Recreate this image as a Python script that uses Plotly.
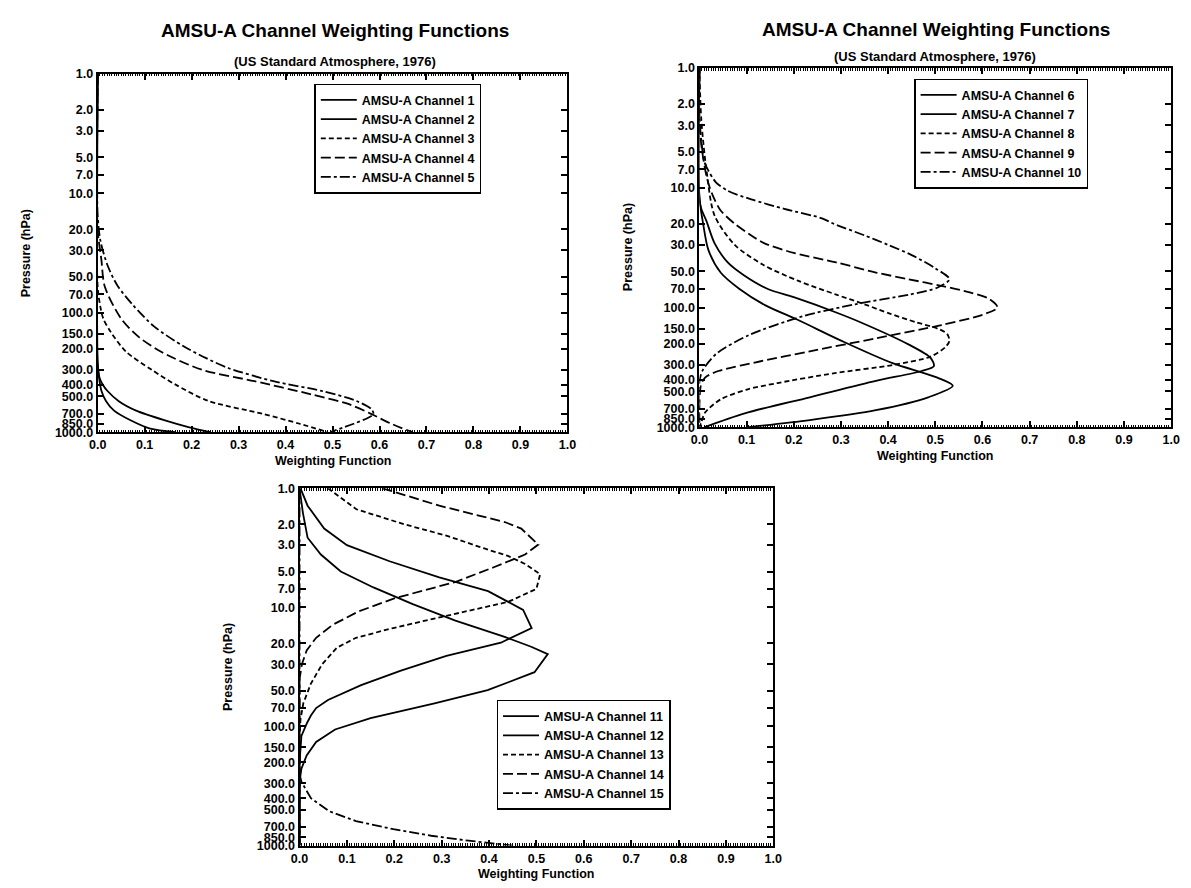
import plotly.graph_objects as go

W_PX, H_PX = 1191, 888

# ---------------- data (pressure hPa, weighting function) ----------------
# Chart 1: channels 1-5
P_CH1 = [1, 250, 350, 450, 550, 660, 795, 934, 1000]
W_CH1 = [0.0, 0.0, 0.003, 0.008, 0.018, 0.035, 0.07, 0.112, 0.165]
P_CH2 = [1, 280, 350, 400, 452, 550, 660, 800, 910, 1000]
W_CH2 = [0.0, 0.0, 0.004, 0.011, 0.021, 0.045, 0.082, 0.145, 0.195, 0.24]
P_CH3 = [1, 60, 90, 112, 145, 211, 300, 398, 546, 700, 850, 1000]
W_CH3 = [0.0, 0.0, 0.006, 0.012, 0.028, 0.06, 0.115, 0.165, 0.235, 0.35, 0.43, 0.49]
P_CH4 = [1, 20, 36, 60, 112, 160, 215, 300, 374, 482, 583, 706, 850, 1000]
W_CH4 = [0.0, 0.0, 0.008, 0.015, 0.05, 0.088, 0.138, 0.222, 0.334, 0.455, 0.535, 0.583, 0.625, 0.67]
P_CH5 = [1, 15, 25, 40, 59, 86, 130, 190, 240, 290, 374, 453, 548, 642, 706, 760, 850, 1000]
W_CH5 = [0.0, 0.0, 0.006, 0.021, 0.042, 0.075, 0.12, 0.182, 0.231, 0.278, 0.374, 0.479, 0.551, 0.583, 0.587, 0.575, 0.545, 0.495]

# Chart 2: channels 6-10
P_CH6 = [1, 12, 20, 33, 51, 70, 96, 126, 192, 290, 380, 451, 562, 720, 870, 1000]
W_CH6 = [0.0, 0.0, 0.008, 0.019, 0.045, 0.085, 0.14, 0.207, 0.304, 0.408, 0.5, 0.537, 0.485, 0.374, 0.234, 0.1]
P_CH7 = [1, 12, 15, 19, 29, 42, 54, 70, 82, 110, 132, 203, 263, 309, 339, 410, 562, 765, 1000]
W_CH7 = [0.0, 0.0, 0.004, 0.015, 0.032, 0.06, 0.095, 0.145, 0.2, 0.29, 0.34, 0.443, 0.49, 0.497, 0.471, 0.374, 0.234, 0.096, 0.01]
P_CH8 = [1, 2.7, 7.1, 17, 30, 44, 60, 78, 94, 113, 133, 150, 166, 190, 213, 257, 302, 353, 427, 484, 585, 753, 910, 1000]
W_CH8 = [0.0, 0.004, 0.015, 0.032, 0.075, 0.135, 0.21, 0.29, 0.35, 0.405, 0.46, 0.505, 0.525, 0.53, 0.522, 0.49, 0.409, 0.287, 0.166, 0.101, 0.045, 0.012, 0.004, 0.0]
P_CH9 = [1, 3, 5, 8, 10, 12.5, 15.5, 20, 25, 29, 35, 42, 51, 58, 66, 75, 85, 100, 115, 140, 181, 232, 281, 339, 385, 450, 1000]
W_CH9 = [0.0, 0.0, 0.006, 0.015, 0.022, 0.032, 0.045, 0.075, 0.11, 0.137, 0.2, 0.29, 0.374, 0.443, 0.513, 0.575, 0.615, 0.632, 0.6, 0.513, 0.374, 0.234, 0.13, 0.04, 0.012, 0.003, 0.0]
P_CH10 = [1, 2.5, 4, 6, 7.2, 9, 10.6, 12.5, 15, 18, 20, 25, 30, 36.5, 47, 58, 68, 78, 94, 118, 170, 245, 340, 420, 1000]
W_CH10 = [0.0, 0.0, 0.004, 0.01, 0.019, 0.035, 0.06, 0.11, 0.18, 0.26, 0.285, 0.35, 0.4, 0.45, 0.5, 0.53, 0.505, 0.445, 0.33, 0.22, 0.105, 0.035, 0.006, 0.0, 0.0]

# Chart 3: channels 11-15
P_CH11 = [1, 1.4, 2.18, 3.0, 4.1, 5.6, 7.3, 10.5, 14.9, 19.8, 25.5, 34, 45, 60, 70, 81, 93, 104, 120, 200, 1000]
W_CH11 = [0.002, 0.017, 0.052, 0.1, 0.19, 0.295, 0.398, 0.472, 0.49, 0.425, 0.31, 0.214, 0.13, 0.06, 0.035, 0.024, 0.016, 0.01, 0.004, 0.0, 0.0]
P_CH12 = [1, 1.6, 2.6, 3.6, 5.0, 6.8, 9.4, 12.9, 17.7, 21.4, 24.7, 35, 49.6, 64, 85, 106, 135, 175, 226, 290, 1000]
W_CH12 = [0.0, 0.007, 0.017, 0.045, 0.087, 0.156, 0.239, 0.329, 0.433, 0.489, 0.524, 0.496, 0.397, 0.285, 0.15, 0.075, 0.035, 0.015, 0.004, 0.0, 0.0]
P_CH13 = [1, 1.5, 2.0, 2.5, 3.2, 3.7, 4.3, 5.25, 7.0, 9.0, 11.6, 14.9, 18, 21.8, 29.9, 43.6, 63.8, 87.5, 120, 1000]
W_CH13 = [0.06, 0.12, 0.22, 0.31, 0.39, 0.44, 0.475, 0.508, 0.5, 0.44, 0.317, 0.198, 0.119, 0.079, 0.048, 0.024, 0.008, 0.002, 0.0, 0.0]
P_CH14 = [1, 1.4, 1.92, 2.18, 2.97, 3.6, 4.6, 6.1, 8.4, 10.8, 14, 18, 23, 30, 40, 1000]
W_CH14 = [0.175, 0.295, 0.433, 0.468, 0.504, 0.476, 0.41, 0.33, 0.2, 0.125, 0.07, 0.035, 0.015, 0.005, 0.0, 0.0]
P_CH15 = [1, 250, 291, 400, 515, 623, 729, 827, 910, 978, 1000]
W_CH15 = [0.0, 0.0, 0.004, 0.024, 0.063, 0.119, 0.198, 0.278, 0.357, 0.42, 0.45]

Y_TICKS = [1, 2, 3, 5, 7, 10, 20, 30, 50, 70, 100, 150, 200, 300, 400, 500, 700, 850, 1000]
Y_TICKTEXT = ["1.0", "2.0", "3.0", "5.0", "7.0", "10.0", "20.0", "30.0", "50.0", "70.0",
              "100.0", "150.0", "200.0", "300.0", "400.0", "500.0", "700.0", "850.0", "1000.0"]

TITLE = "AMSU-A Channel Weighting Functions"
SUBTITLE = "(US Standard Atmosphere, 1976)"
X_TITLE = "Weighting Function"
Y_TITLE = "Pressure (hPa)"

# ---------------- styles ----------------
FONT = "Liberation Sans, Arial, sans-serif"
DASHES = ["solid", "solid", "5px,3px", "10px,4px", "10px,3px,3px,3px"]
LW = 1.8

# plot boxes in pixels: (left, right, top, bottom)
BOXES = [(90, 567, 68, 432), (701, 1180, 62, 427), (295, 776, 489, 852)]
LEGEND_POS = [(310, 78), (919, 73), (495, 704)]
YLAB_X = [17.5, 628, 222.5]

charts = [
    [(P_CH1, W_CH1, 1), (P_CH2, W_CH2, 2), (P_CH3, W_CH3, 3), (P_CH4, W_CH4, 4), (P_CH5, W_CH5, 5)],
    [(P_CH6, W_CH6, 6), (P_CH7, W_CH7, 7), (P_CH8, W_CH8, 8), (P_CH9, W_CH9, 9), (P_CH10, W_CH10, 10)],
    [(P_CH11, W_CH11, 11), (P_CH12, W_CH12, 12), (P_CH13, W_CH13, 13), (P_CH14, W_CH14, 14), (P_CH15, W_CH15, 15)],
]


def px_x(x):
    return x / W_PX


def px_y(y):
    return 1 - y / H_PX


fig = go.Figure()
layout = dict(
    width=W_PX, height=H_PX, margin=dict(l=0, r=0, t=0, b=0),
    paper_bgcolor="white", plot_bgcolor="white",
    font=dict(family=FONT, color="black"),
    annotations=[],
)

for i, (chart, box, lpos) in enumerate(zip(charts, BOXES, LEGEND_POS)):
    n = "" if i == 0 else str(i + 1)
    left, right, top, bottom = box
    xa = dict(
        domain=[px_x(left), px_x(right)], range=[0, 1], anchor="y" + n,
        tickmode="linear", tick0=0, dtick=0.1, tickformat=".1f",
        ticks="inside", ticklen=6, tickwidth=1.5, tickcolor="black",
        showline=True, linewidth=2, linecolor="black", mirror="allticks",
        showgrid=False, zeroline=False,
        tickfont=dict(size=12.5, family=FONT, weight="bold"),
        minor=dict(dtick=0.005, ticks="inside", ticklen=2.5, tickwidth=1, tickcolor="black", showgrid=False),
    )
    ya = dict(
        domain=[px_y(bottom), px_y(top)], type="log", range=[3, 0], anchor="x" + n,
        tickmode="array", tickvals=Y_TICKS, ticktext=Y_TICKTEXT,
        ticks="inside", ticklen=6, tickwidth=1.5, tickcolor="black",
        showline=True, linewidth=2, linecolor="black", mirror="allticks",
        showgrid=False, zeroline=False,
        tickfont=dict(size=12.5, family=FONT, weight="bold"),
    )
    layout["xaxis" + n] = xa
    layout["yaxis" + n] = ya
    leg = "legend" + n
    layout[leg] = dict(
        x=px_x(lpos[0]), y=px_y(lpos[1]), xanchor="left", yanchor="top",
        bgcolor="white", bordercolor="black", borderwidth=1.5,
        font=dict(size=12.5, family=FONT, weight="bold"),
        tracegroupgap=0, itemwidth=36,
    )
    for k, (p, w, ch) in enumerate(chart):
        fig.add_trace(go.Scatter(
            x=w, y=p, mode="lines", name=f"AMSU-A Channel {ch}",
            line=dict(color="black", width=LW, dash=DASHES[k],
                      shape="linear" if i == 2 else "spline", smoothing=0.8),
            xaxis="x" + n, yaxis="y" + n, legend=leg,
        ))
    cx = (left + right) / 2
    cy = (top + bottom) / 2
    layout["annotations"].append(dict(
        text=X_TITLE, x=px_x(cx), y=px_y(bottom + 29), xref="paper", yref="paper",
        showarrow=False, xanchor="center", yanchor="middle",
        font=dict(size=12.5, family=FONT, weight="bold")))
    layout["annotations"].append(dict(
        text=Y_TITLE, x=px_x(YLAB_X[i]), y=px_y(cy), xref="paper", yref="paper",
        showarrow=False, xanchor="center", yanchor="middle", textangle=-90,
        font=dict(size=12.5, family=FONT, weight="bold")))

# titles for the two upper charts
for (tx, ty, sx, sy) in [(331, 24, 331, 55), (941, 23, 940, 50)]:
    layout["annotations"].append(dict(
        text=TITLE, x=px_x(tx), y=px_y(ty), xref="paper", yref="paper",
        showarrow=False, xanchor="center", yanchor="middle",
        font=dict(size=19, family=FONT, weight="bold")))
    layout["annotations"].append(dict(
        text=SUBTITLE, x=px_x(sx), y=px_y(sy), xref="paper", yref="paper",
        showarrow=False, xanchor="center", yanchor="middle",
        font=dict(size=13, family=FONT, weight="bold")))

fig.update_layout(**layout)
fig.write_html("out.html", config={"displayModeBar": False},
               post_script="document.body.style.margin='0';")
